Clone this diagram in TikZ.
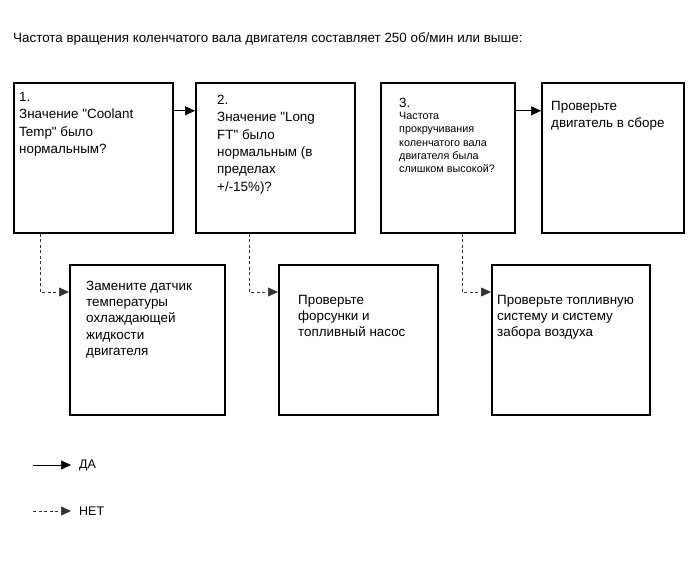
\documentclass[tikz,border=0pt]{standalone}
\usepackage{fontspec}
\setmainfont{Liberation Sans}[Ligatures=TeXOff]
\usetikzlibrary{arrows.meta}

\begin{document}
\begin{tikzpicture}
  [x=1pt,y=-1pt,
   box/.style={draw,line width=1.6pt,anchor=north west,inner sep=0pt,minimum height=150pt},
   txt/.style={anchor=north west,align=left,inner sep=0pt,font=\fontsize{13.4}{17.3}\selectfont},
   lowtxt/.style={txt,font=\fontsize{13.4}{16.2}\selectfont},
   yes/.style={-{Triangle[length=10pt,width=9pt]},line width=0.6pt},
   no/.style={-{Triangle[length=10pt,width=9pt]},line width=0.6pt,dash pattern=on 3pt off 2.5pt,black!80}]
  \useasboundingbox (0,0) rectangle (690,564);

  \node[anchor=north west,inner sep=0pt,font=\fontsize{13.4}{15}\selectfont] (title) at (13,32)
    {Частота вращения коленчатого вала двигателя составляет 250 об/мин или выше:};

  % questions
  \node[box,minimum width=159pt] (q1) at (13,82) {};
  \node[box,minimum width=159pt] (q2) at (195,82) {};
  \node[box,minimum width=134pt] (q3) at (380,82) {};
  \node[box,minimum width=142pt] (a4) at (541,82) {};
  % repairs
  \node[box,minimum width=155pt] (a1) at (69,264) {};
  \node[box,minimum width=159pt] (a2) at (278,264) {};
  \node[box,minimum width=158pt] (a3) at (491,264) {};

  \node[txt] (t1) at (19,92) {1.\\Значение "Coolant\\Temp" было\\нормальным?};
  \node[txt] (t2) at (217,95) {2.\\Значение "Long\\FT" было\\нормальным (в\\пределах\\+/-15\%)?};
  \node[txt] (n3) at (399,98) {3.};
  \node[txt,font=\fontsize{10.8}{13.3}\selectfont] (t3) at (399,112)
    {Частота\\прокручивания\\коленчатого вала\\двигателя была\\слишком высокой?};
  \node[txt] (t4) at (551,101) {Проверьте\\двигатель в сборе};
  \node[lowtxt] (t5) at (86,281) {Замените датчик\\температуры\\охлаждающей\\жидкости\\двигателя};
  \node[lowtxt] (t6) at (298,295) {Проверьте\\форсунки и\\топливный насос};
  \node[lowtxt] (t7) at (497,295) {Проверьте топливную\\систему и систему\\забора воздуха};

  \draw[yes] ([yshift=47pt]q1.east) -- ([yshift=47pt]q2.west);
  \draw[yes] ([yshift=47pt]q3.east) -- ([yshift=47pt]a4.west);

  \draw[no] ([xshift=27pt]q1.south west) |- ([yshift=-28pt]a1.north west);
  \draw[no] ([xshift=54pt]q2.south west) |- ([yshift=-28pt]a2.north west);
  \draw[no] ([xshift=82pt]q3.south west) |- ([yshift=-28pt]a3.north west);

  % legend
  \node[anchor=west,inner sep=0pt,font=\fontsize{12.5}{14}\selectfont] (da) at (79,465) {ДА};
  \node[anchor=west,inner sep=0pt,font=\fontsize{12.5}{14}\selectfont] (net) at (79,511) {НЕТ};
  \coordinate (d0) at (33,465);
  \coordinate (n0) at (33,511);
  \draw[yes] (d0) -- ([xshift=-8pt]da.west);
  \draw[no] (n0) -- ([xshift=-8pt]net.west);
\end{tikzpicture}
\end{document}
